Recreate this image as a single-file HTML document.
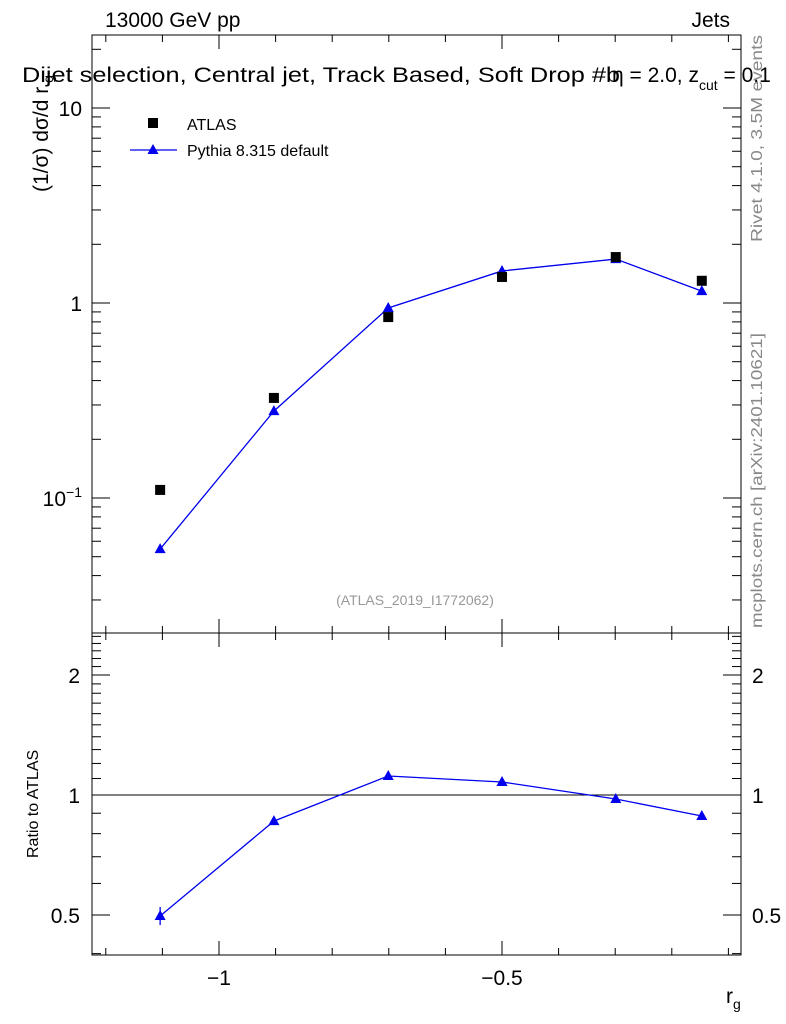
<!DOCTYPE html>
<html><head><meta charset="utf-8"><style>
body{margin:0;background:#fff;}
svg{display:block;font-family:"Liberation Sans",sans-serif;}
</style></head><body>
<svg id="c" width="786" height="1024"></svg>
<script>
const categories=[-1.104,-0.903,-0.701,-0.5,-0.299,-0.147];
const atlasVals=[0.110,0.326,0.847,1.36,1.72,1.30];
const pythiaVals=[0.0547,0.279,0.943,1.46,1.68,1.15];
const ratioVals=[0.497,0.86,1.116,1.078,0.977,0.886];
const xTickLabels=[-1,-0.5];
const yTickLabels=[0.1,1,10];
const rTickLabels=[0.5,1,2];

const NS="http://www.w3.org/2000/svg";
const svg=document.getElementById('c');
function el(t,a,txt){const e=document.createElementNS(NS,t);for(const k in a)e.setAttribute(k,a[k]);if(txt!==undefined)e.textContent=txt;svg.appendChild(e);return e;}
const L=92,R=741,T=35,M=633,B=955;
const X=v=>219+(v+1)*566;
const Y=v=>303-Math.log10(v)*195;
const RY=v=>795-Math.log10(v)*398.6;

let f=el('rect',{x:L,y:T,width:R-L,height:M-T,fill:'none',stroke:'#000','stroke-width':1});

f=el('rect',{x:L,y:M,width:R-L,height:B-M,fill:'none',stroke:'#000','stroke-width':1});


for(let i=-13;i<=-1;i++){const v=i/10;const x=X(v);if(x<L||x>R)continue;const maj=(i%5===0);const len=maj?14:7;
 [[T,T+len],[M,M-len],[M,M+len],[B,B-len]].forEach(p=>el('line',{x1:x,x2:x,y1:p[0],y2:p[1],stroke:'#000'}));}
xTickLabels.forEach(v=>{const t=el('text',{x:X(v),y:985,'font-size':21,'text-anchor':'middle'},v===-1?'−1':'−0.5');
 });

for(let d=-2;d<=1;d++){for(let m=1;m<=9;m++){const v=m*Math.pow(10,d);const y=Y(v);if(y<T||y>M)continue;const len=m===1?18:9;
 el('line',{x1:L,x2:L+len,y1:y,y2:y,stroke:'#000'});el('line',{x1:R,x2:R-len,y1:y,y2:y,stroke:'#000'});}}
yTickLabels.forEach(v=>{const y=Y(v)+8;let t;
 if(v===0.1){t=el('text',{x:82,y:y,'font-size':21,'text-anchor':'end'});t.innerHTML='10<tspan dy="-9" font-size="14">−1</tspan>';}
 else t=el('text',{x:82,y:y,'font-size':21,'text-anchor':'end'},String(v));
 });

for(let i=4;i<=25;i++){const v=i/10;const y=RY(v);if(y<M||y>B)continue;const maj=rTickLabels.includes(v);const len=maj?18:9;
 el('line',{x1:L,x2:L+len,y1:y,y2:y,stroke:'#000'});el('line',{x1:R,x2:R-len,y1:y,y2:y,stroke:'#000'});}
rTickLabels.forEach(v=>{[[80,'end'],[752,'start']].forEach(p=>{const t=el('text',{x:p[0],y:RY(v)+8,'font-size':21,'text-anchor':p[1]},String(v));
 });});
el('line',{x1:L,x2:R,y1:RY(1),y2:RY(1),stroke:'#000'});

let p=el('polyline',{points:categories.map((c,i)=>X(c)+','+Y(pythiaVals[i])).join(' '),fill:'none',stroke:'#0000ee','stroke-width':1.3});

categories.forEach((c,i)=>{const x=X(c),y=Y(pythiaVals[i]);const m=el('polygon',{points:`${x},${y-6} ${x-5.5},${y+4} ${x+5.5},${y+4}`,fill:'#0000ee'});
 });
categories.forEach((c,i)=>{const x=X(c),y=Y(atlasVals[i]);const m=el('rect',{x:x-5,y:y-5,width:10,height:10,fill:'#000'});
 });

p=el('polyline',{points:categories.map((c,i)=>X(c)+','+RY(ratioVals[i])).join(' '),fill:'none',stroke:'#0000ee','stroke-width':1.3});

categories.forEach((c,i)=>{const x=X(c),y=RY(ratioVals[i]);const m=el('polygon',{points:`${x},${y-6} ${x-5.5},${y+4} ${x+5.5},${y+4}`,fill:'#0000ee'});
 });
el('line',{x1:X(categories[0]),x2:X(categories[0]),y1:RY(ratioVals[0])-9,y2:RY(ratioVals[0])+9,stroke:'#0000ee','stroke-width':1.3});

let g=el('rect',{x:148,y:118,width:10,height:10,fill:'#000'});
let t=el('text',{x:187,y:130,'font-size':16},'ATLAS');
el('line',{x1:130,x2:177,y1:150,y2:150,stroke:'#0000ee','stroke-width':1.3});
g=el('polygon',{points:'153,144 147.5,154 158.5,154',fill:'#0000ee'});
t=el('text',{x:187,y:156,'font-size':16},'Pythia 8.315 default');

t=el('text',{x:105,y:27,'font-size':21},'13000 GeV pp');
t=el('text',{x:730,y:27,'font-size':21,'text-anchor':'end'},'Jets');
t=el('text',{x:22,y:82,'font-size':21,textLength:598,lengthAdjust:'spacingAndGlyphs'},'Dijet selection, Central jet, Track Based, Soft Drop #b');

t=el('text',{x:612,y:82,'font-size':21});t.innerHTML='η = 2.0, z<tspan dy="8" font-size="14">cut</tspan><tspan dy="-8"> = 0.1</tspan>';

t=el('text',{x:415,y:605,'font-size':14,fill:'#999','text-anchor':'middle'},'(ATLAS_2019_I1772062)');
t=el('text',{transform:'translate(48,192) rotate(-90)','font-size':21});t.innerHTML='(1/σ) dσ/d r<tspan dy="5" font-size="14"> g</tspan>';

t=el('text',{transform:'translate(38,858) rotate(-90)','font-size':16},'Ratio to ATLAS');
t=el('text',{x:726,y:1003,'font-size':21});t.innerHTML='r<tspan dy="6" font-size="14">g</tspan>';
t=el('text',{transform:'translate(762,242) rotate(-90)','font-size':16,fill:'#888',textLength:207,lengthAdjust:'spacingAndGlyphs'},'Rivet 4.1.0,  3.5M events');
t=el('text',{transform:'translate(762,628) rotate(-90)','font-size':16,fill:'#888',textLength:295,lengthAdjust:'spacingAndGlyphs'},'mcplots.cern.ch [arXiv:2401.10621]');
</script>
</body></html>
